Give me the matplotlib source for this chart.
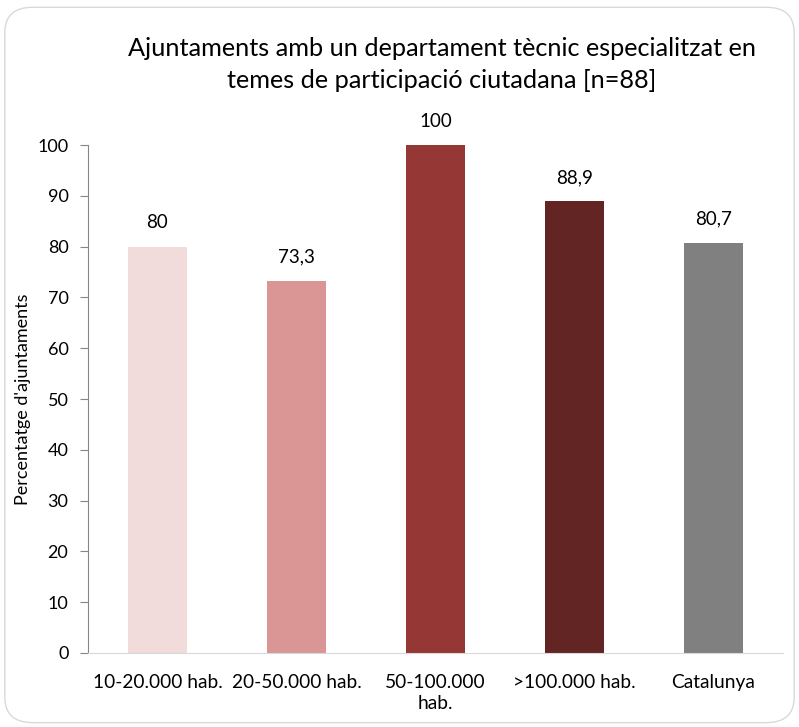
import numpy as np
import matplotlib.pyplot as plt
from matplotlib.patches import FancyBboxPatch

categories = ['10-20.000 hab.', '20-50.000 hab.', '50-100.000\nhab.', '>100.000 hab.', 'Catalunya']
values = [80, 73.3, 100, 88.9, 80.7]
labels = ['80', '73,3', '100', '88,9', '80,7']
colors = ['#F2DCDB', '#DA9694', '#953735', '#632523', '#808080']

plt.rcParams['font.family'] = ['Lato', 'DejaVu Sans']

fig = plt.figure(figsize=(7.99, 7.27), dpi=100)
fig.patches.append(FancyBboxPatch((0.006, 0.006), 0.988, 0.984,
                                  boxstyle='round,pad=0,rounding_size=0.035',
                                  transform=fig.transFigure, fill=False,
                                  edgecolor='#D9D9D9', linewidth=1))

ax = fig.add_axes([0.110, 0.1018, 0.870, 0.6987])
x = np.arange(len(categories))
ax.bar(x, values, width=0.42, color=colors)
for xi, v, lab in zip(x, values, labels):
    ax.text(xi, v + 3, lab, ha='center', va='bottom', fontsize=13.5)

ax.set_xlim(-0.5, len(categories) - 0.5)
ax.set_ylim(0, 100)
ax.set_yticks(range(0, 101, 10))
ax.set_xticks(x)
ax.set_xticklabels(categories, fontsize=13.8, linespacing=1.3)
ax.tick_params(axis='x', length=0, pad=15)
ax.tick_params(axis='y', labelsize=13, color='#868686', length=6, pad=8, direction='out')
ax.spines['top'].set_visible(False)
ax.spines['right'].set_visible(False)
ax.spines['left'].set_color('#868686')
ax.spines['bottom'].set_color('#D9D9D9')
ax.set_ylabel("Percentatge d'ajuntaments", fontsize=13)
ax.yaxis.set_label_coords(-0.082, 0.5)

fig.text(0.553, 0.911, 'Ajuntaments amb un departament tècnic especialitzat en\ntemes de participació ciutadana [n=88]',
         ha='center', va='center', fontsize=18.2, linespacing=1.5)

fig.savefig('out.png', dpi=100)
